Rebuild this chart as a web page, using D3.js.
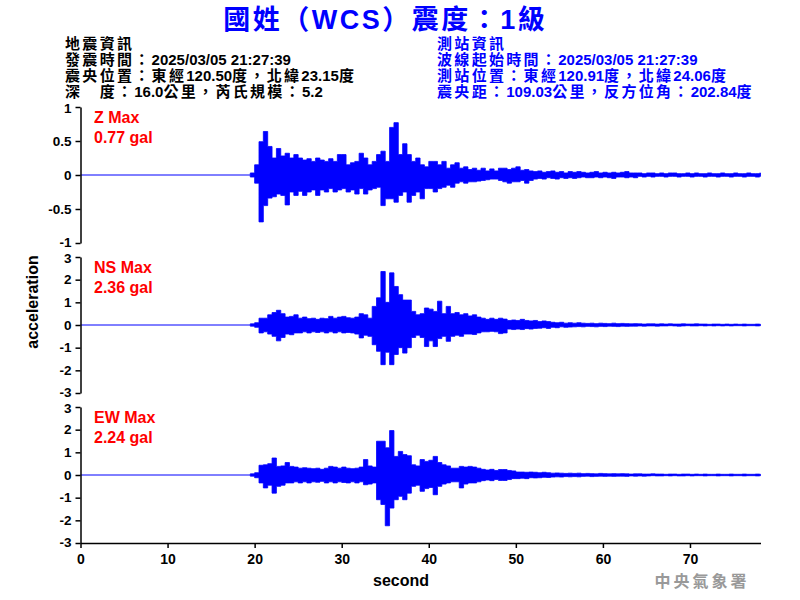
<!DOCTYPE html>
<html><head><meta charset="utf-8">
<script src="https://cdn.jsdelivr.net/npm/d3@7"></script>
<style>
body{margin:0;background:#fff;}
svg{display:block;}
</style></head>
<body><svg id="c" width="800" height="600"></svg>
<script>
// ---- data ----
const titleText = "國姓（WCS）震度：1級";
const quakeInfo = ["地震資訊", "發震時間：2025/03/05 21:27:39", "震央位置：東經120.50度，北緯23.15度", "深　度：16.0公里，芮氏規模：5.2"];
const stationInfo = ["測站資訊", "波線起始時間：2025/03/05 21:27:39", "測站位置：東經120.91度，北緯24.06度", "震央距：109.03公里，反方位角：202.84度"];
const components = ["Z", "NS", "EW"];
const maxValues = ["0.77 gal", "2.36 gal", "2.24 gal"];
const yTicksZ = [-1, -0.5, 0, 0.5, 1];
const yTicksH = [-3, -2, -1, 0, 1, 2, 3];
const xTicks = [0, 10, 20, 30, 40, 50, 60, 70];
const timeStart = 19.5;   // first envelope bin (s)
const binStep = 0.5;      // envelope bin width (s)
const timeEnd = 78.1;

const zUp = [0.03,0.15,0.49,0.64,0.42,0.25,0.39,0.28,0.32,0.25,0.30,0.25,0.22,0.24,0.20,0.25,0.22,0.20,0.24,0.20,0.30,0.30,0.15,0.18,0.20,0.32,0.25,0.15,0.20,0.30,0.35,0.20,0.70,0.77,0.30,0.46,0.30,0.20,0.25,0.15,0.12,0.20,0.20,0.15,0.20,0.10,0.15,0.18,0.10,0.12,0.08,0.10,0.07,0.10,0.06,0.09,0.06,0.10,0.10,0.08,0.10,0.12,0.07,0.08,0.06,0.05,
0.06,0.04,0.05,0.06,0.04,0.05,0.03,0.05,0.04,0.05,
0.04,0.03,0.04,0.05,0.03,0.04,0.03,0.04,0.03,0.04,0.05,0.03,0.03,
0.03,0.02,0.03,0.03,0.02,0.03,0.02,0.03,0.03,0.02,0.02,0.03,0.02,0.03,0.02,0.02,0.03,0.02,0.02,0.03,0.02,0.02,0.03,0.02,0.02,0.03,0.02,0.02,0.03];
const zLo = [-0.03,-0.12,-0.69,-0.45,-0.34,-0.32,-0.28,-0.30,-0.44,-0.25,-0.30,-0.24,-0.30,-0.25,-0.22,-0.30,-0.22,-0.25,-0.20,-0.25,-0.22,-0.20,-0.25,-0.22,-0.28,-0.20,-0.28,-0.22,-0.20,-0.18,-0.45,-0.35,-0.35,-0.40,-0.30,-0.25,-0.40,-0.30,-0.25,-0.35,-0.20,-0.20,-0.25,-0.20,-0.18,-0.15,-0.18,-0.12,-0.10,-0.12,-0.10,-0.10,-0.09,-0.08,-0.07,-0.06,-0.06,-0.08,-0.10,-0.12,-0.10,-0.10,-0.08,-0.12,-0.08,-0.06,
-0.05,-0.06,-0.04,-0.05,-0.06,-0.04,-0.05,-0.04,-0.05,-0.04,
-0.03,-0.04,-0.04,-0.03,-0.04,-0.03,-0.04,-0.05,-0.03,-0.03,-0.04,-0.03,-0.04,
-0.02,-0.03,-0.02,-0.03,-0.02,-0.02,-0.03,-0.02,-0.02,-0.03,-0.02,-0.02,-0.03,-0.02,-0.02,-0.03,-0.02,-0.02,-0.03,-0.02,-0.02,-0.03,-0.02,-0.02,-0.03,-0.02,-0.02,-0.03,-0.02];

const nsUp = [0.05,0.10,0.30,0.30,0.45,0.55,0.65,0.50,0.35,0.38,0.45,0.30,0.35,0.28,0.30,0.25,0.30,0.28,0.38,0.30,0.35,0.38,0.32,0.30,0.35,0.50,0.45,0.30,0.82,1.20,2.36,1.00,2.30,1.70,1.34,1.10,1.10,0.60,0.45,0.50,0.75,0.70,0.60,1.05,0.50,0.82,0.50,0.55,0.45,0.50,0.40,0.45,0.35,0.30,0.25,0.30,0.25,0.30,0.26,0.20,0.22,0.20,0.25,0.20,0.18,0.20,
0.15,0.18,0.15,0.12,0.10,0.12,0.08,0.10,0.08,0.10,
0.08,0.07,0.08,0.06,0.08,0.07,0.06,0.08,0.06,0.07,0.06,0.05,0.06,
0.05,0.04,0.05,0.05,0.04,0.05,0.04,0.05,0.04,0.04,0.05,0.04,0.04,0.05,0.04,0.04,0.03,0.04,0.04,0.03,0.04,0.03,0.04,0.03,0.04,0.03,0.03,0.04,0.03];
const nsLo = [-0.05,-0.10,-0.35,-0.30,-0.40,-0.50,-0.70,-0.55,-0.40,-0.43,-0.35,-0.35,-0.30,-0.35,-0.30,-0.33,-0.30,-0.35,-0.30,-0.35,-0.30,-0.35,-0.33,-0.35,-0.40,-0.57,-0.45,-0.50,-0.87,-1.16,-1.75,-1.20,-1.75,-1.30,-1.00,-1.24,-1.00,-0.55,-0.45,-0.55,-0.95,-0.70,-0.95,-0.60,-0.50,-0.72,-0.50,-0.45,-0.50,-0.40,-0.40,-0.42,-0.35,-0.30,-0.30,-0.28,-0.30,-0.38,-0.35,-0.18,-0.20,-0.18,-0.20,-0.16,-0.18,-0.15,
-0.14,-0.12,-0.15,-0.10,-0.12,-0.08,-0.10,-0.09,-0.08,-0.07,
-0.08,-0.06,-0.07,-0.08,-0.06,-0.07,-0.05,-0.06,-0.07,-0.05,-0.06,-0.05,-0.05,
-0.04,-0.05,-0.04,-0.04,-0.05,-0.04,-0.04,-0.03,-0.04,-0.05,-0.04,-0.03,-0.04,-0.04,-0.03,-0.04,-0.03,-0.04,-0.03,-0.04,-0.03,-0.04,-0.03,-0.03,-0.04,-0.03,-0.03,-0.04,-0.03];

const ewUp = [0.05,0.10,0.43,0.45,0.50,0.75,0.38,0.40,0.55,0.38,0.35,0.30,0.32,0.30,0.28,0.30,0.25,0.30,0.38,0.35,0.30,0.35,0.30,0.28,0.30,0.35,0.68,0.40,0.35,1.49,1.49,1.20,1.96,0.82,1.04,0.90,0.85,0.45,0.40,0.68,0.60,0.65,0.82,0.55,0.45,0.40,0.30,0.30,0.38,0.35,0.38,0.35,0.30,0.25,0.22,0.25,0.20,0.24,0.24,0.20,0.18,0.13,0.13,0.12,0.13,0.12,
0.10,0.12,0.10,0.08,0.09,0.08,0.07,0.08,0.07,0.08,
0.06,0.07,0.06,0.05,0.07,0.06,0.05,0.06,0.05,0.06,0.05,0.04,0.05,
0.05,0.04,0.04,0.05,0.04,0.04,0.03,0.04,0.04,0.03,0.04,0.04,0.03,0.04,0.03,0.04,0.03,0.03,0.04,0.03,0.03,0.04,0.03,0.03,0.04,0.03,0.03,0.04,0.03];
const ewLo = [-0.05,-0.12,-0.35,-0.57,-0.45,-0.80,-0.50,-0.45,-0.35,-0.35,-0.30,-0.35,-0.30,-0.35,-0.30,-0.32,-0.28,-0.35,-0.30,-0.35,-0.30,-0.33,-0.35,-0.30,-0.35,-0.30,-0.43,-0.40,-0.35,-1.09,-1.30,-2.24,-1.46,-1.09,-0.94,-1.09,-0.80,-0.50,-0.45,-0.72,-0.60,-0.55,-0.87,-0.50,-0.40,-0.35,-0.30,-0.30,-0.57,-0.40,-0.35,-0.35,-0.30,-0.25,-0.22,-0.25,-0.20,-0.24,-0.24,-0.20,-0.16,-0.16,-0.14,-0.16,-0.12,-0.13,
-0.12,-0.10,-0.11,-0.09,-0.08,-0.09,-0.07,-0.08,-0.07,-0.08,
-0.06,-0.05,-0.07,-0.06,-0.05,-0.06,-0.05,-0.06,-0.05,-0.05,-0.06,-0.04,-0.05,
-0.04,-0.05,-0.04,-0.03,-0.04,-0.04,-0.03,-0.04,-0.03,-0.04,-0.04,-0.03,-0.04,-0.03,-0.03,-0.04,-0.03,-0.03,-0.04,-0.03,-0.03,-0.04,-0.03,-0.03,-0.04,-0.03,-0.03,-0.04,-0.03];

const series = [[zUp, zLo], [nsUp, nsLo], [ewUp, ewLo]];
const yDomains = [[-1, 1], [-3, 3], [-3, 3]];
const yTickSets = [yTicksZ, yTicksH, yTicksH];

// ---- layout ----
const svg = d3.select("#c");
const left = 80.5, right = 760.5;
const panelTops = [107, 257, 407];
const panelH = 136;
const x = d3.scaleLinear().domain([0, timeEnd]).range([left, right]);
const fontNum = "'Liberation Sans', Arial, sans-serif";
const fontMix = "'Liberation Sans', 'Noto Sans CJK TC', 'Noto Sans CJK SC', sans-serif";
const fontCJK = "'Noto Sans CJK TC', 'Noto Sans CJK SC', sans-serif";
const isCJK = ch => /[\u3000-\u303f\u3400-\u9fff\uff00-\uffef]/.test(ch);
// extra advance after each CJK glyph (wider CJK cells as in the reference)
const cjkGap = (str, gap, all) => Array.from(str).map((ch, i, a) => (i > 0 && (all || isCJK(a[i - 1]))) ? gap : 0).join(" ");

// title
svg.append("text").attr("x", 384).attr("y", 29).attr("text-anchor", "middle")
  .attr("fill", "#0000ff").attr("font-weight", "bold").attr("font-family", fontMix)
  .attr("font-size", 27).attr("dx", cjkGap(titleText, 2.5, true)).text(titleText);

quakeInfo.forEach((t, i) => {
  svg.append("text").attr("x", 65).attr("y", 49 + i * 16).attr("fill", "#000")
    .attr("font-family", fontMix).attr("font-size", 15).attr("font-weight", "bold")
    .attr("dx", cjkGap(t, 2.3, false)).text(t);
});
stationInfo.forEach((t, i) => {
  svg.append("text").attr("x", 437).attr("y", 49 + i * 16).attr("fill", "#0000ff")
    .attr("font-family", fontMix).attr("font-size", 15).attr("font-weight", "bold")
    .attr("dx", cjkGap(t, 2.3, false)).text(t);
});

components.forEach((comp, k) => {
  const top = panelTops[k];
  const [d0, d1] = yDomains[k];
  const y = d3.scaleLinear().domain(yDomains[k]).range([top + panelH, top]);
  const g = svg.append("g");
  // waveform envelope
  const [up, lo] = series[k];
  const bins = up.map((u, i) => ({ t: timeStart + i * binStep, u, l: lo[i] }));
  bins.push({ t: timeEnd, u: 0, l: 0 });
  const area = d3.area().x(d => x(d.t)).y0(d => y(d.l)).y1(d => y(d.u)).curve(d3.curveStepAfter);
  g.append("path").attr("d", area(bins)).attr("fill", "#0000ff")
    .attr("stroke", "#0000ff").attr("stroke-width", 0.8);
  // pre-event trace
  const line = d3.line().x(d => x(d[0])).y(d => y(d[1]));
  g.append("path").attr("d", line([[0, 0], [timeStart, 0]])).attr("fill", "none")
    .attr("stroke", "#0000ff").attr("stroke-width", 1);

  // y axis
  const ax = g.append("g").attr("transform", `translate(${left},0)`)
    .call(d3.axisLeft(y).tickValues(yTickSets[k]).tickSize(5).tickSizeOuter(0).tickFormat(d => String(d)));
  ax.select(".domain").attr("stroke", "#000").attr("stroke-width", 1.5);
  ax.selectAll(".tick line").attr("stroke", "#000").attr("stroke-width", 1.5);
  ax.selectAll("text").attr("font-family", fontNum).attr("font-weight", "bold")
    .attr("font-size", 13.5).attr("fill", "#000").attr("dx", "-1")
    .attr("transform", d => d === d0 ? "translate(0,-1.2)" : d === d1 ? "translate(0,1.2)" : null);

  // labels
  g.append("text").attr("x", 94).attr("y", top + 16).attr("fill", "#ff0000")
    .attr("font-family", fontNum).attr("font-weight", "bold").attr("font-size", 16)
    .text(comp + " Max");
  g.append("text").attr("x", 94).attr("y", top + 36).attr("fill", "#ff0000")
    .attr("font-family", fontNum).attr("font-weight", "bold").attr("font-size", 16)
    .text(maxValues[k]);
});

// x axis
const xa = svg.append("g").attr("transform", `translate(0,${panelTops[2] + panelH})`)
  .call(d3.axisBottom(x).tickValues(xTicks).tickSize(5).tickSizeOuter(0));
xa.select(".domain").attr("stroke", "#000").attr("stroke-width", 1.5);
xa.selectAll(".tick line").attr("stroke", "#000").attr("stroke-width", 1.5);
xa.selectAll("text").attr("font-family", fontNum).attr("font-weight", "bold")
  .attr("font-size", 14).attr("fill", "#000").attr("dy", "0.9em");

svg.append("text").attr("x", 401).attr("y", 586).attr("text-anchor", "middle")
  .attr("font-family", fontNum).attr("font-weight", "bold").attr("font-size", 16).text("second");
svg.append("text").attr("transform", "translate(38,302) rotate(-90)").attr("text-anchor", "middle")
  .attr("font-family", fontNum).attr("font-weight", "bold").attr("font-size", 16).text("acceleration");

svg.append("text").attr("x", 702).attr("y", 587).attr("text-anchor", "middle")
  .attr("font-family", fontCJK).attr("font-size", 16).attr("font-weight", "bold").attr("fill", "#999")
  .attr("letter-spacing", 3).text("中央氣象署");
</script></body></html>
